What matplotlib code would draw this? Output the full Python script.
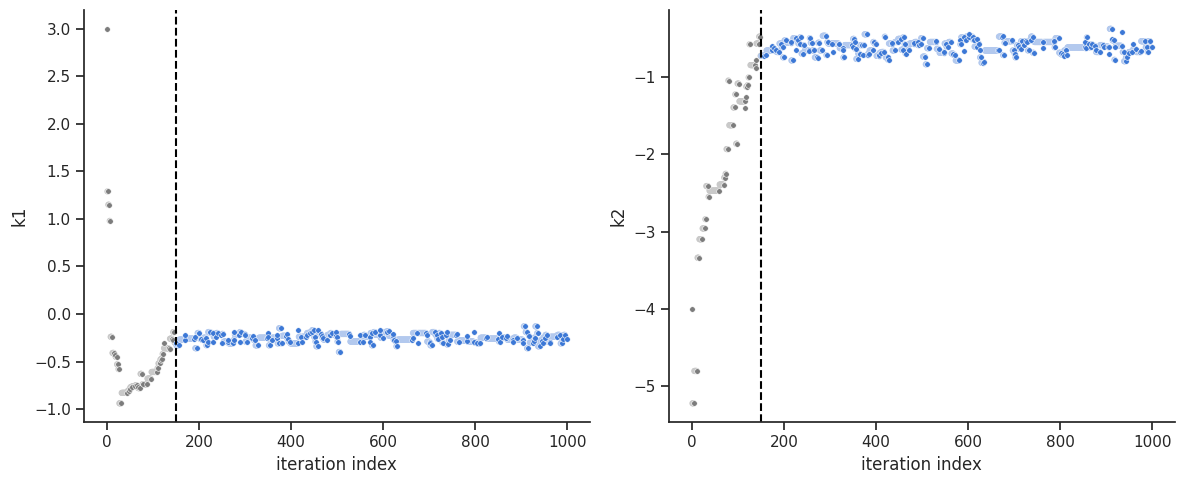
import numpy as np
import matplotlib
matplotlib.use("Agg")
import matplotlib.pyplot as plt
import seaborn as sns

# trace of the sampler: (last iteration of a run, value held during that run)
k1_trace = [
    (0, 3.0), (2, 1.29), (5, 1.15), (7, 0.98), (11, -0.24), (16, -0.41), (18, -0.43), (21, -0.45),
    (24, -0.53), (26, -0.58), (31, -0.94), (44, -0.83), (48, -0.81), (50, -0.79), (54, -0.77),
    (61, -0.76), (65, -0.75), (67, -0.77), (72, -0.78), (76, -0.63), (78, -0.74), (87, -0.74),
    (96, -0.68), (109, -0.61), (111, -0.57), (115, -0.52), (117, -0.48), (120, -0.47), (122, -0.42),
    (123, -0.31), (134, -0.36), (136, -0.37), (141, -0.26), (143, -0.27), (146, -0.19),
    (150, -0.30), (156, -0.33), (169, -0.27), (170, -0.22), (190, -0.26), (191, -0.24), (196, -0.36),
    (201, -0.20), (205, -0.26), (209, -0.27), (215, -0.25), (217, -0.33), (219, -0.29), (224, -0.19),
    (230, -0.20), (231, -0.29), (237, -0.24), (241, -0.20), (248, -0.22), (249, -0.31), (253, -0.21),
    (263, -0.29), (264, -0.27), (274, -0.31), (275, -0.19), (277, -0.27), (287, -0.22), (288, -0.29),
    (291, -0.19), (299, -0.21), (300, -0.22), (304, -0.29), (316, -0.25), (317, -0.23), (322, -0.27),
    (329, -0.33), (348, -0.25), (349, -0.20), (351, -0.24), (354, -0.33), (358, -0.27), (369, -0.25),
    (370, -0.22), (373, -0.31), (378, -0.15), (380, -0.31), (390, -0.23), (391, -0.21), (394, -0.26),
    (398, -0.29), (415, -0.31), (416, -0.17), (422, -0.24), (423, -0.29), (433, -0.24), (434, -0.22),
    (441, -0.20), (445, -0.19), (449, -0.17), (452, -0.24), (454, -0.29), (458, -0.34), (459, -0.17),
    (466, -0.21), (467, -0.23), (470, -0.25), (478, -0.27), (485, -0.22), (488, -0.20), (497, -0.22),
    (498, -0.19), (500, -0.24), (503, -0.29), (507, -0.40), (527, -0.21), (528, -0.23), (549, -0.29),
    (550, -0.22), (557, -0.29), (561, -0.22), (571, -0.24), (572, -0.29), (575, -0.20), (579, -0.33),
    (583, -0.19), (593, -0.22), (594, -0.17), (600, -0.25), (608, -0.19), (612, -0.18), (621, -0.23),
    (622, -0.21), (624, -0.27), (628, -0.28), (631, -0.34), (663, -0.27), (664, -0.25), (674, -0.20),
    (675, -0.30), (694, -0.20), (695, -0.22), (701, -0.29), (702, -0.30), (706, -0.33), (713, -0.19),
    (717, -0.22), (720, -0.26), (725, -0.20), (728, -0.24), (731, -0.30), (737, -0.22), (738, -0.19),
    (742, -0.32), (746, -0.27), (759, -0.22), (760, -0.21), (764, -0.29), (782, -0.28), (783, -0.23),
    (797, -0.29), (798, -0.19), (804, -0.30), (811, -0.31), (824, -0.25), (825, -0.24), (850, -0.26),
    (851, -0.20), (854, -0.29), (858, -0.24), (868, -0.25), (869, -0.23), (882, -0.27), (883, -0.29),
    (891, -0.25), (904, -0.27), (905, -0.31), (909, -0.13), (912, -0.19), (916, -0.36), (918, -0.23),
    (926, -0.30), (927, -0.28), (930, -0.25), (934, -0.13), (936, -0.20), (940, -0.34), (945, -0.28),
    (947, -0.30), (952, -0.25), (956, -0.22), (962, -0.29), (963, -0.30), (978, -0.24), (985, -0.22),
    (988, -0.31), (992, -0.26), (996, -0.22), (999, -0.26),
]

k2_trace = [
    (0, -4.0), (4, -5.23), (11, -4.81), (15, -3.34), (22, -3.10), (28, -2.96), (30, -2.84), (35, -2.41),
    (37, -2.55), (59, -2.47), (69, -2.39), (72, -2.30), (74, -2.25), (78, -1.93), (80, -1.04), (89, -1.62),
    (93, -1.39), (95, -1.22), (98, -1.86), (102, -1.08), (115, -1.31), (116, -1.40), (117, -1.26),
    (120, -1.12), (122, -1.10), (124, -1.0), (126, -0.57), (137, -0.84), (138, -0.88), (139, -0.78),
    (145, -0.56), (148, -0.47),
    (157, -0.72), (161, -0.71), (173, -0.65), (174, -0.59), (178, -0.62), (183, -0.65), (189, -0.67),
    (194, -0.56), (197, -0.61), (200, -0.74), (205, -0.52), (214, -0.55), (215, -0.54), (219, -0.78),
    (225, -0.49), (226, -0.65), (230, -0.51), (234, -0.56), (237, -0.48), (241, -0.69), (244, -0.58),
    (254, -0.65), (255, -0.66), (257, -0.49), (261, -0.55), (266, -0.65), (272, -0.74), (273, -0.75),
    (277, -0.55), (283, -0.65), (291, -0.46), (293, -0.71), (295, -0.54), (305, -0.56), (306, -0.67),
    (319, -0.56), (320, -0.57), (327, -0.62), (328, -0.65), (331, -0.74), (348, -0.58), (349, -0.61),
    (353, -0.50), (354, -0.54), (356, -0.63), (360, -0.76), (364, -0.69), (370, -0.58), (371, -0.71),
    (374, -0.58), (380, -0.44), (382, -0.71), (385, -0.69), (393, -0.65), (396, -0.54), (400, -0.56),
    (406, -0.72), (407, -0.71), (411, -0.68), (418, -0.67), (420, -0.47), (425, -0.74), (427, -0.77),
    (434, -0.56), (435, -0.55), (440, -0.65), (447, -0.54), (454, -0.50), (458, -0.64), (461, -0.48),
    (463, -0.57), (466, -0.69), (472, -0.64), (482, -0.56), (483, -0.55), (490, -0.54), (494, -0.58),
    (497, -0.56), (501, -0.49), (507, -0.73), (510, -0.83), (516, -0.62), (530, -0.54), (531, -0.53),
    (537, -0.63), (547, -0.68), (548, -0.67), (552, -0.56), (557, -0.60), (563, -0.54), (568, -0.69),
    (572, -0.71), (581, -0.78), (582, -0.52), (584, -0.57), (590, -0.48), (591, -0.66), (595, -0.51),
    (601, -0.47), (602, -0.44), (610, -0.47), (613, -0.51), (619, -0.60), (620, -0.50), (624, -0.56),
    (625, -0.65), (628, -0.74), (633, -0.81), (635, -0.80), (665, -0.65), (666, -0.64), (674, -0.47),
    (675, -0.46), (678, -0.71), (680, -0.55), (695, -0.53), (696, -0.52), (700, -0.65), (702, -0.69),
    (705, -0.74), (709, -0.58), (711, -0.61), (714, -0.63), (718, -0.53), (722, -0.58), (725, -0.53),
    (729, -0.54), (732, -0.65), (736, -0.52), (740, -0.47), (743, -0.68), (762, -0.54), (763, -0.62),
    (786, -0.54), (787, -0.53), (789, -0.61), (797, -0.49), (801, -0.68), (807, -0.70), (808, -0.72),
    (812, -0.65), (815, -0.71), (853, -0.61), (854, -0.54), (857, -0.62), (859, -0.48), (863, -0.57),
    (866, -0.61), (870, -0.57), (876, -0.59), (877, -0.65), (886, -0.67), (894, -0.58), (895, -0.61),
    (905, -0.60), (906, -0.70), (907, -0.60), (912, -0.37), (913, -0.50), (917, -0.52), (919, -0.77),
    (920, -0.60), (934, -0.59), (935, -0.41), (938, -0.67), (942, -0.79), (946, -0.74), (949, -0.68),
    (957, -0.67), (958, -0.57), (964, -0.63), (974, -0.67), (975, -0.66), (985, -0.53), (989, -0.61),
    (991, -0.67), (996, -0.53), (999, -0.61),
]

burn_in = 150
labels = ["k1", "k2"]


def expand(trace):
    ends = np.array([t[0] for t in trace])
    vals = np.array([t[1] for t in trace])
    starts = np.r_[0, ends[:-1] + 1]
    y = np.repeat(vals, ends - starts + 1)
    x = np.arange(len(y))
    moved = np.isin(x, ends)
    return x, y, moved


sns.set_theme(style="ticks")
fig, axes = plt.subplots(1, 2, figsize=(11.83, 4.84), dpi=100)

for ax, trace, lab in zip(axes, [k1_trace, k2_trace], labels):
    x, y, moved = expand(trace)
    burn = x < burn_in
    # held (repeated) samples first, light, no edge so runs merge into bands
    for mask, col in [(burn & ~moved, "#c9c9c9"), (~burn & ~moved, "#b3c9ee")]:
        ax.scatter(x[mask], y[mask], s=20, color=col, edgecolor="none")
    for mask, col in [(burn & moved, "#7c7c7c"), (~burn & moved, "#3c78d6")]:
        ax.scatter(x[mask], y[mask], s=16, color=col, edgecolor="white", linewidth=0.4)
    ax.axvline(burn_in, color="black", linestyle="--", linewidth=1.5)
    ax.set_xlabel("iteration index")
    ax.set_ylabel(lab)
    ax.set_xticks([0, 200, 400, 600, 800, 1000])

axes[0].set_yticks(np.arange(-1.0, 3.01, 0.5))
sns.despine()
plt.subplots_adjust(left=0.071, right=0.993, bottom=0.128, top=0.979, wspace=0.157)
plt.savefig("out.png", dpi=100)
